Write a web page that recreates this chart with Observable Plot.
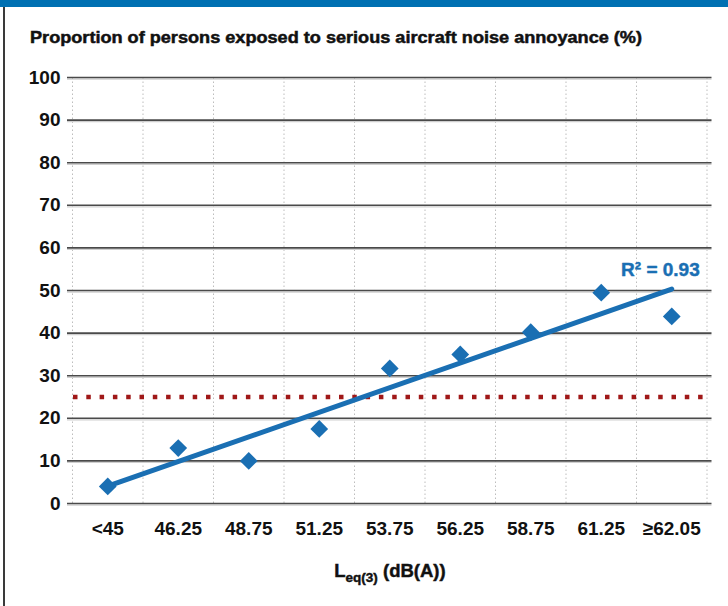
<!DOCTYPE html>
<html>
<head>
<meta charset="utf-8">
<script src="https://cdn.jsdelivr.net/npm/d3@7"></script>
<script src="https://cdn.jsdelivr.net/npm/@observablehq/plot@0.6"></script>
<style>
  html, body { margin: 0; padding: 0; background: #fff; }
  #wrap { position: relative; width: 728px; height: 606px; overflow: hidden; background: #fff; font-family: "Liberation Sans", Arial, sans-serif; }
  #topbar { position: absolute; left: 0; top: 0; width: 728px; height: 7px; background: #0070b2; }
  #leftbar { position: absolute; left: 3px; top: 7px; width: 2px; height: 599px; background: #3a3a3a; }
  #chart { position: absolute; left: 0; top: 0; }
  #chart svg text { font-weight: bold; }
  .overlay { position: absolute; left: 0; top: 0; pointer-events: none; }
</style>
</head>
<body>
<div id="wrap">
  <div id="chart"></div>
  <svg class="overlay" width="728" height="606" id="labels">
    <text x="30" y="42.5" font-family="Liberation Sans, Arial, sans-serif" font-weight="bold" font-size="16.5" fill="#111" stroke="#111" stroke-width="0.5" textLength="612" lengthAdjust="spacingAndGlyphs">Proportion of persons exposed to serious aircraft noise annoyance (%)</text>
    <text x="390" y="577" text-anchor="middle" font-family="Liberation Sans, Arial, sans-serif" font-weight="bold" font-size="18.5" fill="#111" stroke="#111" stroke-width="0.45">L<tspan font-size="13.5" dy="5">eq(3)</tspan><tspan dy="-5"> (dB(A))</tspan></text>
  </svg>
  <div id="topbar"></div>
  <div id="leftbar"></div>
</div>
<script>
const categories = ["<45", "46.25", "48.75", "51.25", "53.75", "56.25", "58.75", "61.25", "≥62.05"];
const values = [4, 13, 10, 17.5, 31.7, 35, 40.2, 49.5, 43.9];
const yTicks = [0, 10, 20, 30, 40, 50, 60, 70, 80, 90, 100];
const threshold = [25];
const r2Label = ["R² = 0.93"];

const data = categories.map((c, i) => ({i, label: c, value: values[i]}));

// least-squares fit for anchoring the R² label at the end of the trend line
const n = values.length;
const mx = d3.mean(data, d => d.i), my = d3.mean(values);
const slope = d3.sum(data, d => (d.i - mx) * (d.value - my)) / d3.sum(data, d => (d.i - mx) ** 2);
const lastX = n - 1;
const lastY = my + slope * (lastX - mx);

const blue = "#1a6fb3";
const ink = "#111";
const font = "Liberation Sans, Arial, sans-serif";

const chart = Plot.plot({
  width: 728,
  height: 606,
  marginTop: 77,
  marginBottom: 103,
  marginLeft: 72,
  marginRight: 21.5,
  style: {fontFamily: font, fontSize: "19px", fontWeight: "bold", color: ink, background: "transparent"},
  x: {domain: [-0.5, n - 0.5], axis: null},
  y: {domain: [0, 100], axis: null},
  marks: [
    Plot.ruleX(d3.range(-0.5, n, 1), {y1: 0, y2: 100, stroke: "#bdbdbd", strokeWidth: 1, strokeDasharray: "1.5,2.5"}),
    Plot.ruleY(yTicks, {stroke: "#cfcfcf", strokeWidth: 1.2, dy: 1.6, insetLeft: -5, insetRight: -5}),
    Plot.ruleY(yTicks, {stroke: "#4a4a4a", strokeWidth: 1.6, insetLeft: -5, insetRight: -5}),
    Plot.ruleY(threshold, {stroke: "#a01818", strokeWidth: 4.5, strokeDasharray: "4.5,8.8", insetLeft: 1}),
    Plot.linearRegressionY(data, {x: "i", y: "value", stroke: blue, strokeWidth: 5, ci: 0}),
    Plot.dot(data, {x: "i", y: "value", symbol: "diamond2", r: 8, fill: blue, stroke: null}),
    Plot.text(r2Label, {x: lastX, y: lastY, text: d => d, textAnchor: "end", dx: 28, dy: -19, fill: blue, stroke: blue, strokeWidth: 0.45, fontSize: 19, fontWeight: "bold"}),
    Plot.axisY(yTicks, {tickSize: 0, tickPadding: 12, fontSize: 19, fontWeight: "bold", fill: ink, stroke: ink, strokeWidth: 0.5, label: null}),
    Plot.axisX(d3.range(n), {tickSize: 0, tickPadding: 18, tickFormat: i => categories[i], fontSize: 19, fontWeight: "bold", fill: ink, stroke: ink, strokeWidth: 0.5, label: null})
  ]
});
document.getElementById("chart").appendChild(chart);
</script>
</body>
</html>
